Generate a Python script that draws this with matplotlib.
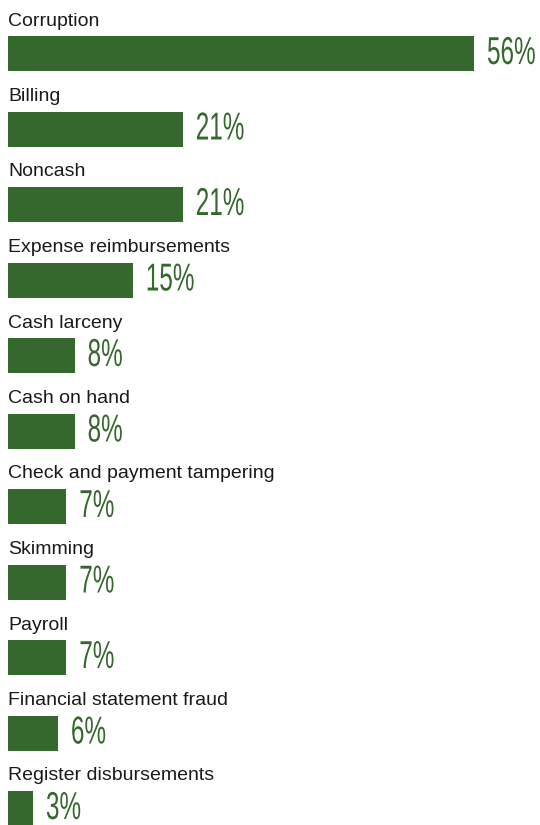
import matplotlib.pyplot as plt
from matplotlib import patheffects
from matplotlib.transforms import Affine2D

categories = ["Corruption", "Billing", "Noncash", "Expense reimbursements",
              "Cash larceny", "Cash on hand", "Check and payment tampering",
              "Skimming", "Payroll", "Financial statement fraud",
              "Register disbursements"]
values = [56, 21, 21, 15, 8, 8, 7, 7, 7, 6, 3]

green = "#35682d"
W, H = 540, 825


class Tall(patheffects.AbstractPathEffect):
    """stretch the glyphs upward, to imitate a condensed face"""
    def __init__(self, sy):
        super().__init__()
        self.sy = sy

    def draw_path(self, renderer, gc, tpath, affine, rgbFace=None):
        renderer.draw_path(gc, tpath, Affine2D().scale(1, self.sy) + affine, rgbFace)


fig = plt.figure(figsize=(W / 100, H / 100), dpi=100)
ax = fig.add_axes([8 / W, 0, 532 / W, 1])
px_per_pct = 466 / 56
ax.set_xlim(0, 532 / px_per_pct)
ax.set_ylim(H, 0)
ax.axis("off")

pitch = 75.5
for i, (cat, v) in enumerate(zip(categories, values)):
    yc = 53.5 + pitch * i
    ax.barh(yc, v, height=35, color=green, align="center")
    ax.text(0, yc - 17.5 - 10.5, cat, fontsize=14, family="Liberation Sans",
            color="#1a1a1a", va="baseline", ha="left")
    ax.text(v + 13 / px_per_pct, yc + 10.5, f"{v}%", fontsize=17.5,
            family="Liberation Sans", color=green, va="baseline", ha="left",
            path_effects=[Tall(1.6)])

fig.savefig("out.png", dpi=100)
